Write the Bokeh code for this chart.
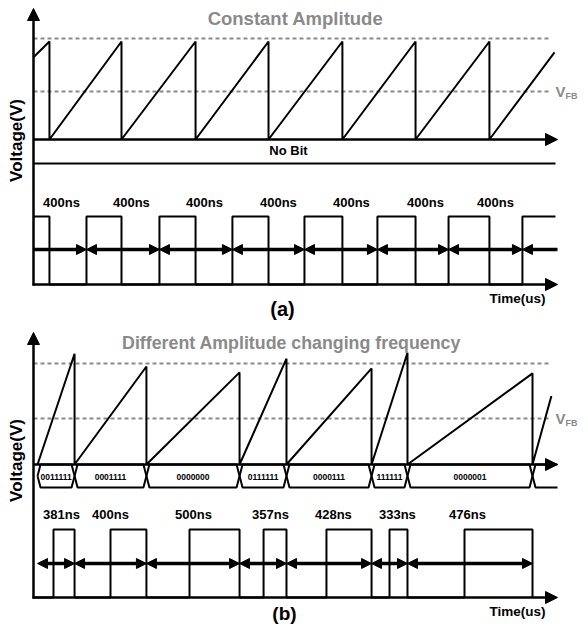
import math
from bokeh.plotting import figure
from bokeh.models import Range1d, Arrow, NormalHead
from bokeh.core.properties import value
from bokeh.embed import file_html
from bokeh.resources import INLINE

# ---------------- data ----------------
# (a) constant amplitude: ramp resets (ns), peak voltages (V)
drop_a_ns = [87, 480, 884, 1282, 1685, 2084, 2487]
peak_a_v = [1.0, 1.0, 1.0, 1.0, 1.0, 1.0, 1.0]
start_a_ns, start_a_v = 0, 0.84
end_a_ns, end_a_v = 2842, 0.89
rise_a_ns = [289, 687, 1085, 1478, 1876, 2264, 2667]
period_a_ns = [400, 400, 400, 400, 400, 400, 400]
label_a_ns = [153, 534, 933, 1336, 1734, 2138, 2520]
vref_a_v = [1.03, 0.49]

# (b) different amplitude / changing frequency
drop_b_ns = [22, 224, 616, 1124, 1380, 1844, 2040, 2722]
peak_b_v = [1.13, 1.0, 0.94, 1.08, 0.98, 1.14, 0.93]
end_b_ns, end_b_v = 2825, 0.70
rise_b_ns = [109, 420, 851, 1255, 1598, 1942, 2351]
period_b_ns = [381, 400, 500, 357, 428, 333, 476]
label_b_ns = [153, 420, 873, 1293, 1636, 1985, 2367]
bits_b = ["0011111", "0001111", "0000000", "0111111", "0000111", "111111", "0000001"]
vref_b_v = [1.03, 0.47]

# ---------------- layout (pixels) ----------------
W, H = 580, 624
LEFT, TOP = 0, 0
X_AX = 33          # vertical axes
X_END = 557        # arrow tips of horizontal axes
X_LINE_END = 555
X_DASH_END = 551
PX_PER_NS = 73.33 / 400.0
PX_PER_V = 98.0
FONT = value("Liberation Sans")
GRAY = "#8a8a8a"

# panel (a) rows
A_TOP, A_V0, A_NOBIT, A_NOBIT_TXT = 8, 139, 163, 150
A_LBL, A_HI, A_ARR, A_LO = 202, 216, 249, 284
# panel (b) rows
B_TOP, B_V0, B_BOT, B_BITTXT = 332, 464, 487, 476
B_LBL, B_HI, B_ARR, B_LO = 514, 529, 563, 597

p = figure(width=W, height=H, output_backend="svg", toolbar_location=None,
           x_axis_type=None, y_axis_type=None, min_border=0,
           x_range=Range1d(LEFT, LEFT + W), y_range=Range1d(TOP + H, TOP))
p.outline_line_color = None
p.background_fill_color = "white"
p.border_fill_color = "white"

t0 = (LEFT - X_AX) / PX_PER_NS
t1 = (LEFT + W - X_AX) / PX_PER_NS
p.extra_x_ranges = {"t": Range1d(t0, t1)}
p.extra_y_ranges = {
    "va": Range1d((A_V0 - (TOP + H)) / PX_PER_V, (A_V0 - TOP) / PX_PER_V),
    "vb": Range1d((B_V0 - (TOP + H)) / PX_PER_V, (B_V0 - TOP) / PX_PER_V),
}

def tx(px):
    return (px - X_AX) / PX_PER_NS

def head(size):
    return NormalHead(size=size, fill_color="black", line_color="black", line_width=1)

def axis_arrow(x0, y0, x1, y1, lw=2.5, size=12):
    p.add_layout(Arrow(end=head(size), x_start=x0, y_start=y0, x_end=x1, y_end=y1,
                       line_width=lw, line_color="black"))

def txt(x, y, s, size, color="black", align="center", angle=0.0):
    p.text(x=[x], y=[y], text=[s], text_font=FONT, text_font_style="bold",
           text_font_size=size, text_color=color, text_align=align,
           text_baseline="middle", angle=angle)

# ============ panel (a) ============
for v in vref_a_v:
    p.line([X_AX, X_DASH_END], [v, v], y_range_name="va", line_color=GRAY,
           line_width=2, line_dash="4 3")

xs, ys = [start_a_ns], [start_a_v]
for t, pk in zip(drop_a_ns, peak_a_v):
    xs += [t, t]
    ys += [pk, 0]
xs.append(end_a_ns); ys.append(end_a_v)
p.line(xs, ys, x_range_name="t", y_range_name="va", line_color="black", line_width=2)

# no-bit line
p.line([X_AX, X_LINE_END], [A_NOBIT, A_NOBIT], line_color="black", line_width=2)
txt(288, A_NOBIT_TXT, "No Bit", "13px")

# clock (a)
xs, ys = [0, drop_a_ns[0], drop_a_ns[0]], [A_HI, A_HI, A_LO]
falls = drop_a_ns[1:]
for i, r in enumerate(rise_a_ns):
    xs += [r, r]; ys += [A_LO, A_HI]
    if i < len(falls):
        xs += [falls[i], falls[i]]; ys += [A_HI, A_LO]
    else:
        xs.append(tx(X_LINE_END)); ys.append(A_HI)
p.line(xs, ys, x_range_name="t", line_color="black", line_width=2)

bounds = [0] + rise_a_ns + [tx(X_END)]
for i in range(len(bounds) - 1):
    sh = head(10) if i > 0 else None
    eh = head(10) if i < len(bounds) - 2 else None
    p.add_layout(Arrow(start=sh, end=eh, x_start=bounds[i], x_end=bounds[i + 1],
                       y_start=A_ARR, y_end=A_ARR, x_range_name="t",
                       line_width=3.5, line_color="black"))
p.text(x=label_a_ns, y=[A_LBL] * len(label_a_ns), text=[f"{v}ns" for v in period_a_ns],
       x_range_name="t", text_font=FONT, text_font_style="bold", text_font_size="13px",
       text_align="center", text_baseline="middle", text_color="black")

# axes (a)
axis_arrow(X_AX, A_LO + 1, X_AX, A_TOP)
axis_arrow(X_AX, A_V0, X_END, A_V0)
axis_arrow(X_AX - 1, A_LO, X_END, A_LO)

txt(295, 18, "Constant Amplitude", "18.5px", color=GRAY)
txt(555, 91, "V", "15px", color=GRAY, align="left")
txt(565, 95, "FB", "9px", color=GRAY, align="left")
txt(16, 140, "Voltage(V)", "17px", angle=math.pi / 2)
txt(517, 298, "Time(us)", "13.5px")
txt(282, 308, "(a)", "20px")

# ============ panel (b) ============
for v in vref_b_v:
    p.line([X_AX, X_DASH_END], [v, v], y_range_name="vb", line_color=GRAY,
           line_width=2, line_dash="4 3")

xs, ys = [drop_b_ns[0]], [0]
for t, pk in zip(drop_b_ns[1:], peak_b_v):
    xs += [t, t]; ys += [pk, 0]
xs.append(end_b_ns); ys.append(end_b_v)
p.line(xs, ys, x_range_name="t", y_range_name="vb", line_color="black", line_width=2)

# bit bus
d = 3 / PX_PER_NS
mid = (B_V0 + B_BOT) / 2
bx, by = [], []
for a, b in zip(drop_b_ns[:-1], drop_b_ns[1:]):
    bx.append([a, a + d, b - d, b, b - d, a + d, a])
    by.append([mid, B_V0, B_V0, mid, B_BOT, B_BOT, mid])
a = drop_b_ns[-1]
bx.append([tx(X_END), a + d, a, a + d, tx(X_END)])
by.append([B_V0, B_V0, mid, B_BOT, B_BOT])
p.multi_line(bx, by, x_range_name="t", line_color="black", line_width=2)
centers = [(a + b) / 2 for a, b in zip(drop_b_ns[:-1], drop_b_ns[1:])]
p.text(x=centers, y=[B_BITTXT] * len(centers), text=bits_b, x_range_name="t",
       text_font=FONT, text_font_style="bold", text_font_size="8.5px",
       text_align="center", text_baseline="middle", text_color="black")

# clock (b)
xs, ys = [0], [B_LO]
for r, f in zip(rise_b_ns, drop_b_ns[1:]):
    xs += [r, r, f, f]; ys += [B_LO, B_HI, B_HI, B_LO]
p.line(xs, ys, x_range_name="t", line_color="black", line_width=2)

for i in range(len(drop_b_ns) - 1):
    p.add_layout(Arrow(start=head(10), end=head(10),
                       x_start=drop_b_ns[i], x_end=drop_b_ns[i + 1],
                       y_start=B_ARR, y_end=B_ARR, x_range_name="t",
                       line_width=3.5, line_color="black"))
p.text(x=label_b_ns, y=[B_LBL] * len(label_b_ns), text=[f"{v}ns" for v in period_b_ns],
       x_range_name="t", text_font=FONT, text_font_style="bold", text_font_size="13px",
       text_align="center", text_baseline="middle", text_color="black")

axis_arrow(X_AX, B_LO + 1, X_AX, B_TOP)
axis_arrow(X_AX, B_V0, X_END, B_V0)
axis_arrow(X_AX - 1, B_LO, X_END, B_LO)

txt(291, 342, "Different Amplitude changing frequency", "17.8px", color=GRAY)
txt(555, 418, "V", "15px", color=GRAY, align="left")
txt(565, 422, "FB", "9px", color=GRAY, align="left")
txt(16, 460, "Voltage(V)", "17px", angle=math.pi / 2)
txt(517, 611, "Time(us)", "13.5px")
txt(284, 613, "(b)", "19px")

open("out.html", "w").write(file_html(p, INLINE))
